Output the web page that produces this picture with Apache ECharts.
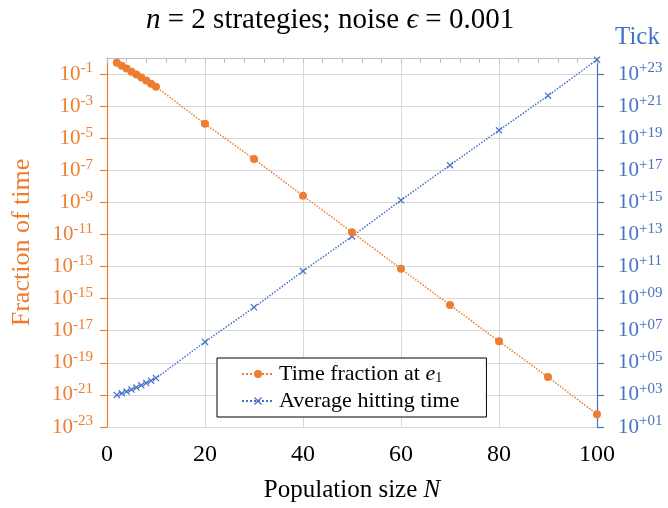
<!DOCTYPE html>
<html>
<head>
<meta charset="utf-8">
<script src="https://cdn.jsdelivr.net/npm/echarts@6/dist/echarts.min.js"></script>
<style>
  html, body { margin: 0; padding: 0; background: #ffffff; }
  #chart { width: 668px; height: 508px; }
</style>
</head>
<body>
<div id="chart"></div>
<script>
// Population sizes N at which both quantities were computed
const populationSizes = [2, 3, 4, 5, 6, 7, 8, 9, 10, 20, 30, 40, 50, 60, 70, 80, 90, 100];

// Fraction of time spent at e1 (left, logarithmic axis)
const timeFraction = [0.50, 0.33, 0.22, 0.14, 0.093, 0.060, 0.039, 0.025, 0.016,
  7.9e-5, 5.0e-7, 2.6e-9, 1.4e-11, 7.2e-14, 4.0e-16, 2.2e-18, 1.3e-20, 6.2e-23];

// Average hitting time in ticks (right, logarithmic axis)
const hittingTime = [1000, 1260, 1620, 2140, 2880, 3980, 5500, 7760, 11200,
  2.0e6, 2.9e8, 5.2e10, 7.6e12, 1.35e15, 2.1e17, 3.1e19, 4.5e21, 7.9e23];

// Decade exponents that carry a tick label on each vertical axis
const fractionTickExponents = [-23, -21, -19, -17, -15, -13, -11, -9, -7, -5, -3, -1];
const tickAxisExponents = [1, 3, 5, 7, 9, 11, 13, 15, 17, 19, 21, 23];

const ORANGE = '#ED7D31';
const BLUE = '#4472C4';
const GRID = '#D9D9D9';
const SERIF = '"Liberation Serif", "Times New Roman", "DejaVu Serif", serif';

const exponentOf = v => Math.round(Math.log10(v));
const pad2 = n => (n < 10 ? '0' : '') + n;

function powerRich(color) {
  return {
    base: { fontFamily: SERIF, fontSize: 21, color: color },
    sup: { fontFamily: SERIF, fontSize: 15, color: color, padding: [0, 0, 11, 0] }
  };
}

const crossSymbol = 'path://M0,1.2 L1.2,0 L10,8.8 L8.8,10 Z M8.8,0 L10,1.2 L1.2,10 L0,8.8 Z';

const chart = echarts.init(document.getElementById('chart'), null, { renderer: 'canvas' });

chart.setOption({
  animation: false,
  backgroundColor: '#ffffff',
  textStyle: { fontFamily: SERIF },
  title: {
    text: '{i|n} = 2 strategies; noise {i|ϵ} = 0.001',
    left: 141,
    top: 1,
    textStyle: {
      fontFamily: SERIF, fontSize: 29, fontWeight: 'normal', color: '#000',
      rich: {
        i: { fontFamily: SERIF, fontSize: 29, fontStyle: 'italic', color: '#000' }
      }
    }
  },
  grid: { left: 107, right: 71, top: 58, bottom: 77, containLabel: false },
  legend: {
    orient: 'vertical',
    left: 217,
    top: 358,
    padding: [5, 27, 5, 24],
    itemGap: 5,
    itemWidth: 32,
    itemHeight: 10,
    backgroundColor: '#ffffff',
    borderColor: '#000000',
    borderWidth: 1,
    borderRadius: 0,
    data: ['Time fraction at e1', 'Average hitting time'],
    formatter: name => name === 'Time fraction at e1' ? 'Time fraction at {i|e}{sub|1}' : name,
    textStyle: {
      fontFamily: SERIF, fontSize: 22, color: '#000',
      rich: {
        i: { fontFamily: SERIF, fontSize: 22, fontStyle: 'italic', color: '#000' },
        sub: { fontFamily: SERIF, fontSize: 14, color: '#000', padding: [8, 0, 0, 0] }
      }
    }
  },
  xAxis: [
    {
      type: 'value',
      position: 'bottom',
      min: 0, max: 100, interval: 20,
      name: 'Population size {i|N}',
      nameLocation: 'middle',
      nameGap: 51,
      nameTextStyle: {
        fontFamily: SERIF, fontSize: 25, color: '#000',
        rich: { i: { fontFamily: SERIF, fontSize: 25, fontStyle: 'italic', color: '#000' } }
      },
      axisLine: { show: false, onZero: false },
      axisTick: { show: false },
      axisLabel: { fontFamily: SERIF, fontSize: 24, color: '#000', margin: 16 },
      splitLine: { show: true, lineStyle: { color: GRID, width: 1 } }
    },
    {
      type: 'value',
      position: 'top',
      min: 0, max: 100, interval: 20,
      axisLine: { show: true, onZero: false, lineStyle: { color: '#BFBFBF', width: 1 } },
      axisTick: { show: true, inside: true, length: 5, lineStyle: { color: '#BFBFBF' } },
      minorTick: { show: true, splitNumber: 5, length: 5, lineStyle: { color: '#BFBFBF' } },
      axisLabel: { show: false },
      splitLine: { show: false }
    }
  ],
  yAxis: [
    {
      type: 'log',
      logBase: 10,
      min: 1e-23,
      max: 1,
      position: 'left',
      name: 'Fraction of time',
      nameLocation: 'middle',
      nameRotate: 90,
      nameGap: 72,
      nameTextStyle: { fontFamily: SERIF, fontSize: 26, color: ORANGE },
      axisLine: { show: true, onZero: false, lineStyle: { color: ORANGE, width: 1.2 } },
      axisTick: {
        show: true, inside: false, length: 7,
        lineStyle: { color: ORANGE, width: 1.2 },
        customValues: fractionTickExponents.map(e => Math.pow(10, e))
      },
      axisLabel: {
        margin: 14,
        customValues: fractionTickExponents.map(e => Math.pow(10, e)),
        formatter: v => '{base|10}{sup|' + exponentOf(v) + '}',
        rich: powerRich(ORANGE)
      },
      splitLine: { show: true, lineStyle: { color: GRID, width: 1 } }
    },
    {
      type: 'log',
      logBase: 10,
      min: 10,
      max: 1e24,
      position: 'right',
      name: 'Tick',
      nameLocation: 'end',
      nameGap: 8,
      nameTextStyle: { fontFamily: SERIF, fontSize: 25, color: BLUE, align: 'left', padding: [0, 0, 0, 18] },
      axisLine: { show: true, onZero: false, lineStyle: { color: BLUE, width: 1.2 } },
      axisTick: {
        show: true, inside: false, length: 7,
        lineStyle: { color: BLUE, width: 1.2 },
        customValues: tickAxisExponents.map(e => Math.pow(10, e))
      },
      axisLabel: {
        margin: 21,
        customValues: tickAxisExponents.map(e => Math.pow(10, e)),
        formatter: v => '{base|10}{sup|+' + pad2(exponentOf(v)) + '}',
        rich: powerRich(BLUE)
      },
      splitLine: { show: false }
    }
  ],
  series: [
    {
      name: 'Time fraction at e1',
      type: 'line',
      xAxisIndex: 0,
      yAxisIndex: 0,
      data: populationSizes.map((n, i) => [n, timeFraction[i]]),
      smooth: 0.25,
      symbol: 'circle',
      symbolSize: 8,
      itemStyle: { color: ORANGE },
      lineStyle: { color: ORANGE, width: 1.5, type: 'dotted' },
      z: 3
    },
    {
      name: 'Average hitting time',
      type: 'line',
      xAxisIndex: 0,
      yAxisIndex: 1,
      data: populationSizes.map((n, i) => [n, hittingTime[i]]),
      smooth: 0.25,
      symbol: crossSymbol,
      symbolSize: 7,
      itemStyle: { color: BLUE },
      lineStyle: { color: BLUE, width: 1.5, type: 'dotted' },
      z: 2
    }
  ]
});
</script>
</body>
</html>
